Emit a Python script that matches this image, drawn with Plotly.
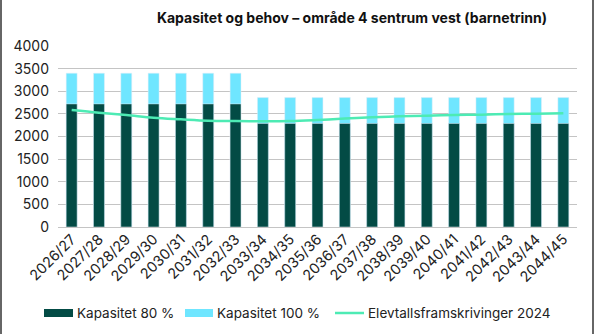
import plotly.graph_objects as go

# School years on the x axis
years = ["2026/27", "2027/28", "2028/29", "2029/30", "2030/31", "2031/32", "2032/33",
         "2033/34", "2034/35", "2035/36", "2036/37", "2037/38", "2038/39", "2039/40",
         "2040/41", "2041/42", "2042/43", "2043/44", "2044/45"]

# Capacity (number of pupils) at 100 % and 80 % utilisation
kapasitet_100 = [3400] * 7 + [2860] * 12
kapasitet_80 = [2720] * 7 + [2288] * 12

# Pupil projection 2024
framskriving = [2586, 2526, 2475, 2416, 2380, 2349, 2340, 2335, 2340, 2365,
                2397, 2424, 2446, 2460, 2475, 2482, 2497, 2504, 2512]

DARK = "#034B45"
LIGHT = "#6FE6FF"
LINE = "#4DEBB4"
FONT = "Inter, Roboto, sans-serif"

W, H = 594, 334
ML, MR, MT, MB = 58, 17, 46, 107
PW, PH = W - ML - MR, H - MT - MB


def px(x):
    return (x - ML) / PW


def py(y):
    return (H - MB - y) / PH


fig = go.Figure()
fig.add_bar(x=years, y=kapasitet_100, name="Kapasitet 100 %", marker_color=LIGHT,
            width=0.4, showlegend=False)
fig.add_bar(x=years, y=kapasitet_80, name="Kapasitet 80 %", marker_color=DARK,
            width=0.4, showlegend=False)
fig.add_scatter(x=years, y=framskriving, name="Elevtallsframskrivinger 2024", mode="lines",
                line=dict(color=LINE, width=2.5, shape="spline"), showlegend=False)

# Hand-drawn legend row
legend = [
    (44, 73, "bar", DARK, "Kapasitet 80 %"),
    (185, 213, "bar", LIGHT, "Kapasitet 100 %"),
    (335, 364, "line", LINE, "Elevtallsframskrivinger 2024"),
]
shapes = []
annotations = []
ly = 313
for x0, x1, kind, col, label in legend:
    if kind == "bar":
        shapes.append(dict(type="rect", xref="paper", yref="paper",
                           x0=px(x0), x1=px(x1), y0=py(ly + 4), y1=py(ly - 4),
                           fillcolor=col, line_width=0))
    else:
        shapes.append(dict(type="line", xref="paper", yref="paper",
                           x0=px(x0), x1=px(x1), y0=py(ly), y1=py(ly),
                           line=dict(color=col, width=2.5)))
    annotations.append(dict(text=label, xref="paper", yref="paper", x=px(x1 + 2), y=py(ly),
                            xanchor="left", yanchor="middle", showarrow=False,
                            font=dict(size=13.5, color="#222", family=FONT)))

# Frame sides
for xx in (1, W - 1):
    shapes.append(dict(type="line", xref="paper", yref="paper",
                       x0=px(xx), x1=px(xx), y0=py(0), y1=py(H),
                       line=dict(color="#666", width=2)))

fig.update_layout(
    width=W, height=H,
    margin=dict(l=ML, r=MR, t=MT, b=MB),
    barmode="overlay",
    plot_bgcolor="white", paper_bgcolor="white",
    font=dict(family=FONT, color="#222"),
    title=dict(text="<b>Kapasitet og behov – område 4 sentrum vest (barnetrinn)</b>",
               x=352 / W, xref="container", xanchor="center",
               y=1 - 18 / H, yref="container", yanchor="middle",
               font=dict(size=14, color="#111", family=FONT)),
    shapes=shapes,
    annotations=annotations,
    xaxis=dict(tickangle=-45, tickfont=dict(size=14.5, color="#222"),
               showgrid=False, showline=False, ticks=""),
    yaxis=dict(range=[0, 4000], dtick=500, showgrid=True, gridcolor="#C4C4C4", gridwidth=1,
               zeroline=True, zerolinecolor="#C4C4C4", zerolinewidth=1,
               tickfont=dict(size=14, color="#222"), ticklabelstandoff=8),
)

fig.write_html("out.html")
